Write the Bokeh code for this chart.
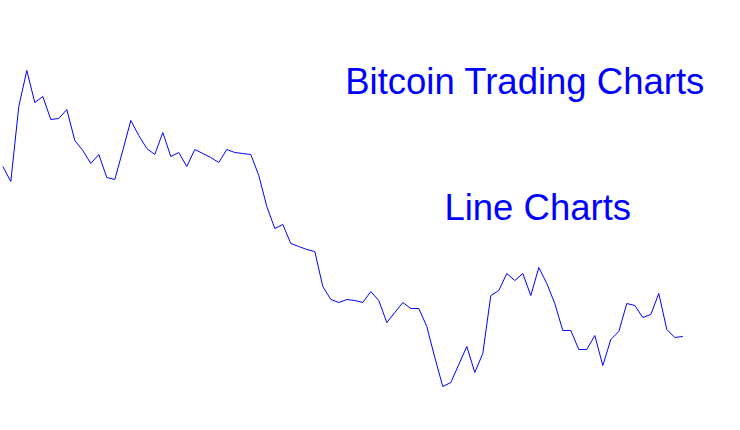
from bokeh.plotting import figure
from bokeh.models import Label, Range1d
from bokeh.embed import file_html
from bokeh.resources import INLINE

# Data: session index and price level (arbitrary units)
sessions = list(range(86))
prices = [264, 249, 324, 360, 328, 334, 311, 312, 321, 290,
          280, 267, 276, 253, 251, 280, 310, 295, 282, 276,
          298, 274, 278, 264, 281, 277, 273, 268, 281, 278,
          277, 276, 255, 224, 202, 206, 187, 184, 181, 179,
          144, 131, 128, 131, 130, 128, 139, 130, 108, 118,
          128, 122, 122, 104, 73, 44, 48, 66, 84, 58,
          77, 135, 140, 157, 150, 157, 135, 163, 147, 127,
          100, 100, 81, 81, 95, 65, 91, 99, 127, 125,
          113, 116, 137, 101, 93, 94]

title_text = "Bitcoin Trading Charts"
subtitle_text = "Line Charts"

p = figure(width=740, height=430, output_backend="svg", toolbar_location=None,
           x_range=Range1d(-0.2875, 92.2125), y_range=Range1d(0, 430),
           min_border=0, min_border_left=0, min_border_right=0,
           min_border_top=0, min_border_bottom=0)
p.axis.visible = False
p.grid.visible = False
p.outline_line_color = None
p.background_fill_color = "white"
p.border_fill_color = "white"

p.line(sessions, prices, line_color="#0000FF", line_width=1)

p.add_layout(Label(x=42.8, y=349, text=title_text, text_color="#0000FF",
                   text_font="Liberation Sans", text_font_size="36.5px",
                   text_baseline="alphabetic", text_align="left"))
p.add_layout(Label(x=55.2, y=223, text=subtitle_text, text_color="#0000FF",
                   text_font="Liberation Sans", text_font_size="36.5px",
                   text_baseline="alphabetic", text_align="left"))

open("out.html", "w").write(file_html(p, INLINE))
